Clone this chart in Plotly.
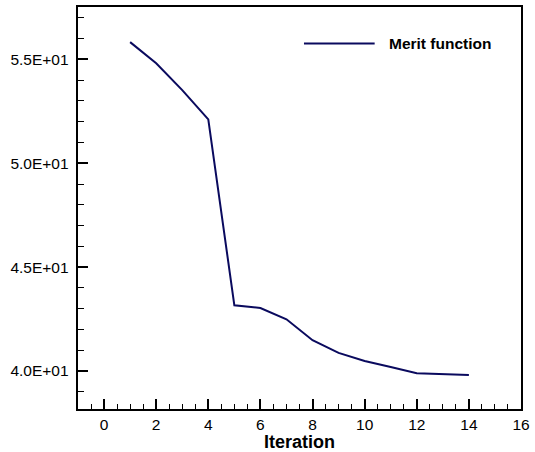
import plotly.graph_objects as go

iteration = [1, 2, 3, 4, 5, 6, 7, 8, 9, 10, 11, 12, 14]
merit = [55.83, 54.81, 53.52, 52.11, 43.16, 43.03, 42.49, 41.48, 40.87, 40.48, 40.19, 39.89, 39.81]

x_ticks = [0, 2, 4, 6, 8, 10, 12, 14, 16]
y_ticks = [40, 45, 50, 55]
y_tick_text = ["4.0E+01", "4.5E+01", "5.0E+01", "5.5E+01"]

line_color = "#0a0a5e"
font_family = "Liberation Sans, Arial, Helvetica, sans-serif"

fig = go.Figure()
fig.add_trace(go.Scatter(
    x=iteration, y=merit, mode="lines",
    line=dict(color=line_color, width=2),
    name="Merit function", showlegend=False,
))

fig.update_layout(
    width=535, height=452,
    margin=dict(l=78, r=12, t=5, b=40),
    paper_bgcolor="white", plot_bgcolor="white",
    font=dict(family=font_family, size=15.5, color="black"),
    xaxis=dict(
        range=[-1, 16], tickvals=x_ticks, ticktext=[str(v) for v in x_ticks],
        ticks="inside", ticklen=10, tickwidth=2, tickcolor="black",
        minor=dict(ticks="inside", dtick=0.5, tick0=0, ticklen=5, tickwidth=1, tickcolor="black"),
        showline=True, linecolor="black", linewidth=2, mirror=True,
        showgrid=False, zeroline=False,
        title=dict(text="<b>Iteration</b>", font=dict(size=18), standoff=2),
    ),
    yaxis=dict(
        range=[38.17, 57.52], tickvals=y_ticks, ticktext=[t + " " for t in y_tick_text],
        ticks="inside", ticklen=10, tickwidth=2, tickcolor="black",
        minor=dict(ticks="inside", dtick=1, tick0=0, ticklen=6, tickwidth=1, tickcolor="black"),
        showline=True, linecolor="black", linewidth=2, mirror=True,
        showgrid=False, zeroline=False,
    ),
)

# legend drawn manually to match the long sample line
fig.add_shape(type="line", xref="paper", yref="paper",
              x0=(305 - 78) / 445, x1=(376 - 78) / 445,
              y0=(412 - 42) / 407, y1=(412 - 42) / 407,
              line=dict(color=line_color, width=2))
fig.add_annotation(xref="paper", yref="paper",
                   x=(388 - 78) / 445, y=(412 - 42) / 407,
                   xanchor="left", yanchor="middle", showarrow=False,
                   text="<b>Merit function</b>", font=dict(size=15.5))

fig.write_html("out.html")
